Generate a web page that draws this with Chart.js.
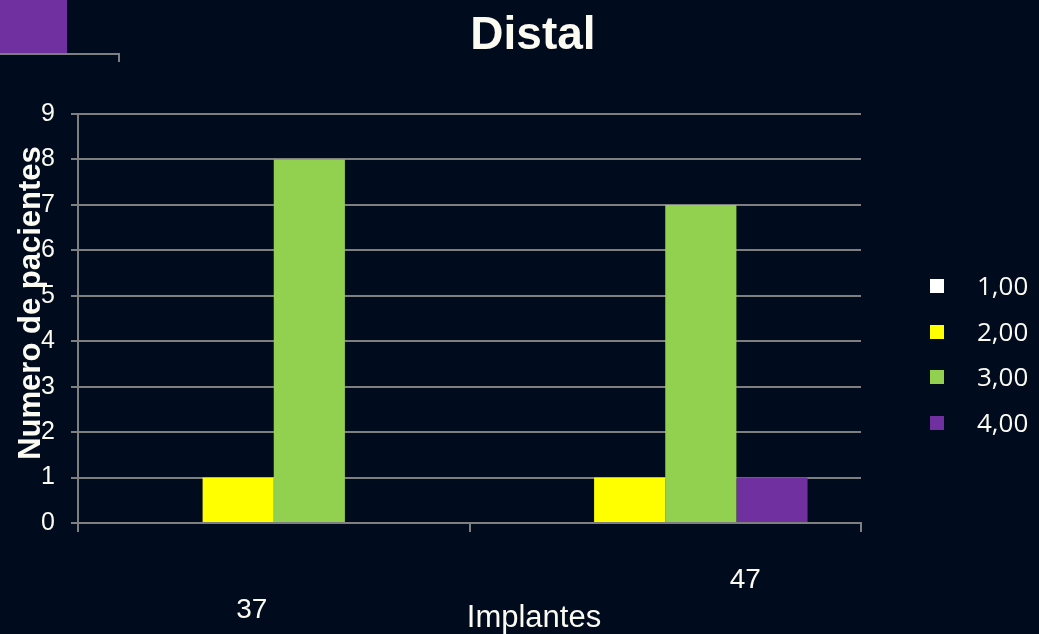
<!DOCTYPE html>
<html>
<head>
<meta charset="utf-8">
<script src="https://cdn.jsdelivr.net/npm/chart.js@4/dist/chart.umd.min.js"></script>
<style>
  html, body { margin: 0; padding: 0; background: #000b1e; }
  #wrap { width: 1039px; height: 634px; position: relative; }
</style>
</head>
<body>
<div id="wrap"><canvas id="c"></canvas></div>
<script>
// Categories (implant positions) and patient counts per score
const categories = ['37', '47'];
const seriesNames = ['1,00', '2,00', '3,00', '4,00'];
const seriesColors = ['#ffffff', '#ffff00', '#92d050', '#7030a0'];
const values100 = [0, 0];
const values200 = [1, 1];
const values300 = [8, 7];
const values400 = [0, 1];
const yTicks = [0, 1, 2, 3, 4, 5, 6, 7, 8, 9];

const chartTitle = 'Distal';
const yTitle = 'Numero de pacientes';
const xTitle = 'Implantes';

const BG = '#000b1e';
const GRID = '#7f7f7f';
const TEXT = '#fbfbf2';
const ARIAL = 'Arial, "Liberation Sans", sans-serif';

const seriesValues = [values100, values200, values300, values400];

// Background, corner decoration, titles, category labels and legend
const decor = {
  id: 'decor',
  beforeDraw(chart) {
    const ctx = chart.ctx;
    ctx.save();
    ctx.fillStyle = BG;
    ctx.fillRect(0, 0, chart.width, chart.height);
    ctx.fillStyle = '#7030a0';
    ctx.fillRect(0, 0, 67, 53);
    ctx.strokeStyle = GRID;
    ctx.lineWidth = 2;
    ctx.beginPath();
    ctx.moveTo(0, 54);
    ctx.lineTo(120, 54);
    ctx.moveTo(119, 53);
    ctx.lineTo(119, 62);
    ctx.stroke();
    ctx.restore();
  },
  afterDraw(chart) {
    const ctx = chart.ctx;
    const xs = chart.scales.x;
    ctx.save();
    ctx.fillStyle = TEXT;

    // chart title
    ctx.font = 'bold 46px ' + ARIAL;
    ctx.textAlign = 'center';
    ctx.textBaseline = 'alphabetic';
    ctx.fillText(chartTitle, 533, 49);

    // x axis title
    ctx.font = '31px ' + ARIAL;
    ctx.fillText(xTitle, 534, 627);

    // category labels, staggered below the axis
    ctx.font = '28px ' + ARIAL;
    const labelShift = [[-22, 618], [80, 588]];
    categories.forEach((c, i) => {
      const px = xs.getPixelForValue(i);
      ctx.fillText(c, px + labelShift[i][0], labelShift[i][1]);
    });

    // y axis title
    ctx.save();
    ctx.translate(40, 303);
    ctx.rotate(-Math.PI / 2);
    ctx.font = 'bold 31px ' + ARIAL;
    ctx.fillText(yTitle, 0, 0);
    ctx.restore();

    // legend
    ctx.textAlign = 'left';
    ctx.font = '26px "Open Sans", sans-serif';
    chart.data.datasets.forEach((ds, i) => {
      const top = 279 + i * 45.7;
      ctx.fillStyle = ds.backgroundColor;
      ctx.fillRect(930, Math.round(top), 14, 14);
      ctx.fillStyle = TEXT;
      ctx.fillText(ds.label, 977, Math.round(top) + 16);
    });
    ctx.restore();
  }
};

new Chart(document.getElementById('c'), {
  type: 'bar',
  data: {
    labels: categories,
    datasets: seriesNames.map((name, i) => ({
      label: name,
      data: seriesValues[i],
      backgroundColor: seriesColors[i],
      borderWidth: 0,
      barPercentage: 1,
      categoryPercentage: 0.727
    }))
  },
  options: {
    responsive: true,
    maintainAspectRatio: false,
    animation: false,
    layout: { padding: { top: 114, right: 178, left: 0, bottom: 0 } },
    plugins: {
      legend: { display: false },
      title: { display: false },
      tooltip: { enabled: false }
    },
    scales: {
      x: {
        grid: {
          offset: true,
          drawOnChartArea: false,
          drawTicks: true,
          tickLength: 9,
          color: GRID,
          lineWidth: 2
        },
        border: { display: true, color: GRID, width: 2 },
        ticks: { display: false },
        afterFit(s) { s.height = 111; }
      },
      y: {
        min: 0,
        max: 9,
        afterBuildTicks(s) { s.ticks = yTicks.map(v => ({ value: v })); },
        grid: {
          color: GRID,
          lineWidth: 2,
          drawTicks: true,
          tickLength: 7
        },
        border: { display: true, color: GRID, width: 2 },
        ticks: {
          color: TEXT,
          padding: 16,
          font: { family: ARIAL, size: 25 }
        },
        afterFit(s) { s.width = 78; }
      }
    }
  },
  plugins: [decor]
});
</script>
</body>
</html>
